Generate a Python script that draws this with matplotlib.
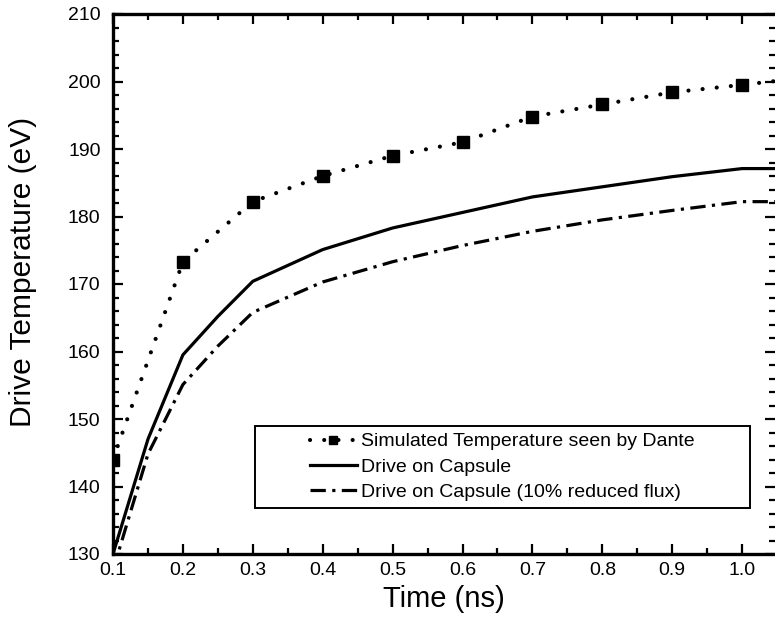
import matplotlib
matplotlib.use("Agg")
import matplotlib.pyplot as plt
from matplotlib.patches import Rectangle
from matplotlib.ticker import MultipleLocator

plt.rcParams['font.family'] = ['Liberation Sans', 'DejaVu Sans']

# Simulated temperature seen by Dante (squares at 0.1 .. 1.0, line runs to the edge)
dante_t = [0.1, 0.2, 0.3, 0.4, 0.5, 0.6, 0.7, 0.8, 0.9, 1.0, 1.05]
dante_T = [144.0, 173.3, 182.2, 186.0, 189.0, 191.0, 194.8, 196.6, 198.4, 199.5, 200.1]

# Drive on capsule
cap_t = [0.1, 0.15, 0.2, 0.25, 0.3, 0.4, 0.5, 0.6, 0.7, 0.8, 0.9, 1.0, 1.05]
cap_T = [130.0, 147.0, 159.5, 165.2, 170.4, 175.1, 178.3, 180.6, 182.9, 184.4, 185.9, 187.1, 187.1]

# Drive on capsule, 10% reduced flux
red_t = [0.1, 0.15, 0.2, 0.25, 0.3, 0.4, 0.5, 0.6, 0.7, 0.8, 0.9, 1.0, 1.05]
red_T = [127.6, 144.8, 155.1, 160.8, 165.8, 170.3, 173.3, 175.7, 177.8, 179.5, 180.9, 182.2, 182.2]

labels = ["Simulated Temperature seen by Dante",
          "Drive on Capsule",
          "Drive on Capsule (10% reduced flux)"]

fig = plt.figure(figsize=(7.75, 6.37), dpi=100)
ax = fig.add_axes([113 / 775, 83 / 637, 662 / 775, 540 / 637])

ax.plot(dante_t, dante_T, color='black', lw=3.0, linestyle=(0, (0.01, 3.4)),
        dash_capstyle='round', marker='s', markersize=8.5,
        markevery=list(range(len(dante_t) - 1)), label=labels[0])
ax.plot(cap_t, cap_T, color='black', lw=2.3, label=labels[1])
ax.plot(red_t, red_T, color='black', lw=2.3, linestyle=(0, (4.8, 2.0, 1.0, 2.0)),
        label=labels[2])

ax.set_xlim(0.1, 1.047)
ax.set_ylim(130, 210)
ax.xaxis.set_minor_locator(MultipleLocator(0.05))
ax.yaxis.set_major_locator(MultipleLocator(10))
ax.yaxis.set_minor_locator(MultipleLocator(2))
ax.set_xticks([0.1, 0.2, 0.3, 0.4, 0.5, 0.6, 0.7, 0.8, 0.9, 1.0])
ax.set_xticklabels(["0.1", "0.2", "0.3", "0.4", "0.5", "0.6", "0.7", "0.8", "0.9", "1.0"])

ax.tick_params(which='both', direction='in', top=True, right=True,
               width=1.6, labelsize=14)
ax.tick_params(which='major', length=7.5)
ax.tick_params(which='minor', length=4)
ax.tick_params(axis='x', pad=6)
ax.tick_params(axis='y', pad=9)

for side in ['left', 'bottom', 'top']:
    ax.spines[side].set_linewidth(2.4)
ax.spines['right'].set_visible(False)

ax.set_xlabel("Time (ns)", fontsize=21)
ax.set_ylabel("Drive Temperature (eV)", fontsize=21.5)
ax.xaxis.set_label_coords(0.5, -0.058)
ax.yaxis.set_label_coords(-0.115, 0.522)

# legend box drawn as its own rectangle, entries centred inside
bx0, bx1 = (255 - 113) / 662, (750 - 113) / 662
by0, by1 = (554 - 508) / 540, (554 - 426) / 540
ax.add_patch(Rectangle((bx0, by0), bx1 - bx0, by1 - by0, transform=ax.transAxes,
                       fill=True, facecolor='white', edgecolor='black', lw=1.4,
                       zorder=4))
leg = ax.legend(loc='center', bbox_to_anchor=((bx0 + bx1) / 2, (by0 + by1) / 2),
                frameon=False, fontsize=14, handlelength=2.4, handletextpad=0.25,
                labelspacing=0.4, numpoints=1, markerscale=0.6)
leg.set_zorder(5)

fig.savefig("out.png", dpi=100)
